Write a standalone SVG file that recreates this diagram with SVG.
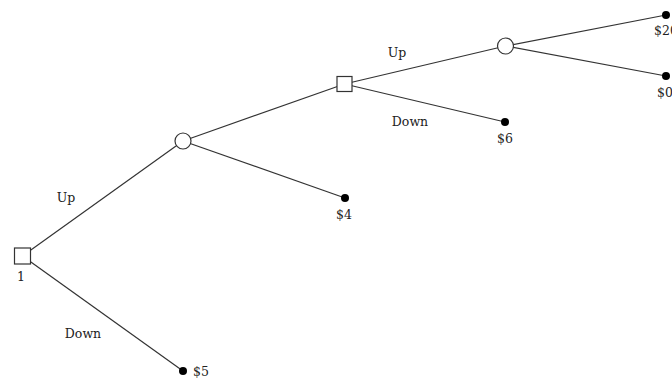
<svg xmlns="http://www.w3.org/2000/svg" width="672" height="378" viewBox="0 0 672 378">
  <style>
    .edge { stroke: #333; stroke-width: 1.2; fill: none; }
    .dec { fill: #fff; stroke: #333; stroke-width: 1.2; }
    .chance { fill: #fff; stroke: #333; stroke-width: 1.2; }
    .leaf { fill: #000; }
    text { font-family: "DejaVu Serif", "Liberation Serif", serif; font-size: 12.5px; fill: #222; }
    .mid { text-anchor: middle; }
  </style>
  <rect width="672" height="378" fill="#fff"/>
  <g id="connectors">
    <line class="edge" x1="22.5" y1="256" x2="183" y2="141"/>
    <line class="edge" x1="22.5" y1="256" x2="183" y2="371"/>
    <line class="edge" x1="183" y1="141" x2="344.5" y2="84"/>
    <line class="edge" x1="183" y1="141" x2="345" y2="198"/>
    <line class="edge" x1="344.5" y1="84" x2="505.5" y2="46"/>
    <line class="edge" x1="344.5" y1="84" x2="505" y2="122"/>
    <line class="edge" x1="505.5" y1="46" x2="666" y2="15"/>
    <line class="edge" x1="505.5" y1="46" x2="666" y2="76"/>
  </g>
  <g id="edge-labels">
    <text x="66" y="202" class="mid">Up</text>
    <text x="83" y="338" class="mid">Down</text>
    <text x="397" y="57" class="mid">Up</text>
    <text x="410" y="126" class="mid">Down</text>
  </g>
  <g id="n1">
    <rect class="dec" x="14.5" y="248" width="16" height="16"/>
    <text x="21" y="281" class="mid">1</text>
  </g>
  <g id="n2">
    <circle class="chance" cx="183" cy="141" r="8"/>
  </g>
  <g id="n3">
    <rect class="dec" x="337" y="76.5" width="15" height="15"/>
  </g>
  <g id="n4">
    <circle class="chance" cx="505.5" cy="46" r="8"/>
  </g>
  <g id="t5">
    <circle class="leaf" cx="183" cy="371" r="4"/>
    <text x="193" y="376">$5</text>
  </g>
  <g id="t4">
    <circle class="leaf" cx="345" cy="198" r="4"/>
    <text x="344" y="219" class="mid">$4</text>
  </g>
  <g id="t6">
    <circle class="leaf" cx="505" cy="122" r="4"/>
    <text x="505" y="143" class="mid">$6</text>
  </g>
  <g id="t20">
    <circle class="leaf" cx="666" cy="15" r="4"/>
    <text x="654" y="35">$20</text>
  </g>
  <g id="t0">
    <circle class="leaf" cx="666" cy="76" r="4"/>
    <text x="657" y="97">$0</text>
  </g>
</svg>
